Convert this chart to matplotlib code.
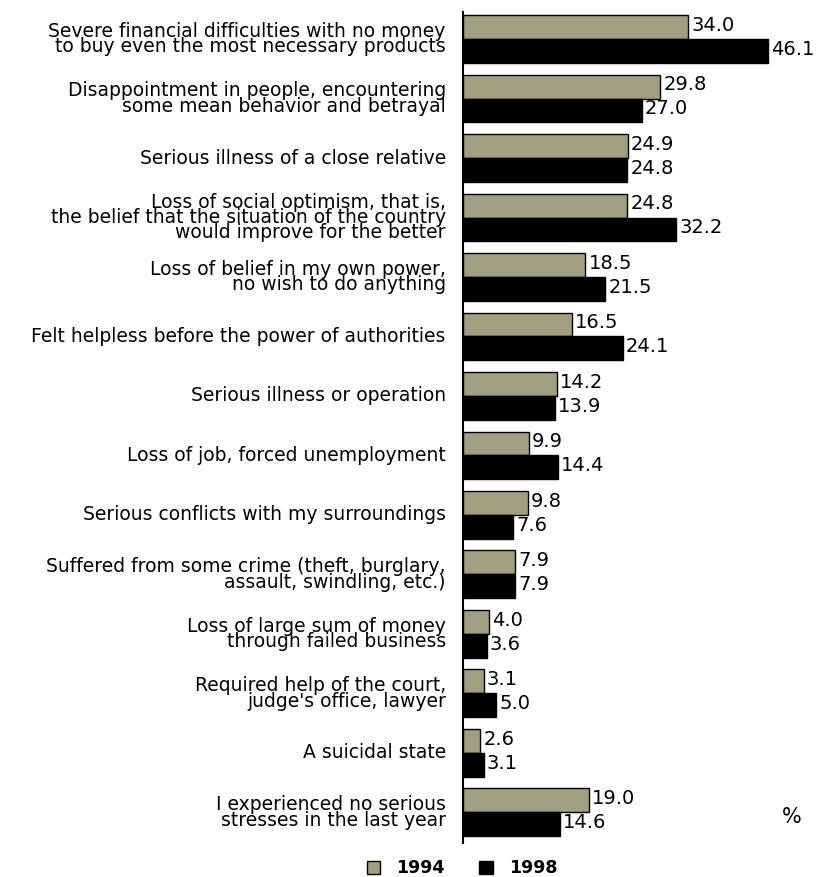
import matplotlib.pyplot as plt
import numpy as np
from matplotlib.patches import Patch

categories = [
    "Severe financial difficulties with no money\nto buy even the most necessary products",
    "Disappointment in people, encountering\nsome mean behavior and betrayal",
    "Serious illness of a close relative",
    "Loss of social optimism, that is,\nthe belief that the situation of the country\nwould improve for the better",
    "Loss of belief in my own power,\nno wish to do anything",
    "Felt helpless before the power of authorities",
    "Serious illness or operation",
    "Loss of job, forced unemployment",
    "Serious conflicts with my surroundings",
    "Suffered from some crime (theft, burglary,\nassault, swindling, etc.)",
    "Loss of large sum of money\nthrough failed business",
    "Required help of the court,\njudge's office, lawyer",
    "A suicidal state",
    "I experienced no serious\nstresses in the last year",
]
values_1994 = [34.0, 29.8, 24.9, 24.8, 18.5, 16.5, 14.2, 9.9, 9.8, 7.9, 4.0, 3.1, 2.6, 19.0]
values_1998 = [46.1, 27.0, 24.8, 32.2, 21.5, 24.1, 13.9, 14.4, 7.6, 7.9, 3.6, 5.0, 3.1, 14.6]
years = ["1994", "1998"]

olive = "#a19f82"
fig = plt.figure(figsize=(8.19, 8.77), dpi=100)
ax = fig.add_axes([0.5653, 0.0388, 0.4042, 0.9475])

y = np.arange(len(categories))
h = 0.403
ax.barh(y - h / 2, values_1994, height=h, color=olive, edgecolor="black", linewidth=1)
ax.barh(y + h / 2, values_1998, height=h, color="black", edgecolor="black", linewidth=1)

for i in range(len(categories)):
    ax.text(values_1994[i] + 0.45, y[i] - h / 2 - 0.03, f"{values_1994[i]:.1f}",
            va="center", ha="left", fontsize=14)
    ax.text(values_1998[i] + 0.45, y[i] + h / 2 - 0.03, f"{values_1998[i]:.1f}",
            va="center", ha="left", fontsize=14)
    ax.text(-2.6, y[i], categories[i], va="center", ha="right", fontsize=13.5,
            linespacing=0.75, multialignment="right")

ax.set_xlim(0, 50)
ax.set_ylim(13.513, -0.454)
for s in ["top", "right", "bottom"]:
    ax.spines[s].set_visible(False)
ax.spines["left"].set_linewidth(1.5)
ax.set_xticks([])
ax.set_yticks([])

fig.text(0.967, 0.068, "%", fontsize=15, ha="center", va="center")

handles = [Patch(facecolor=olive, edgecolor="black"), Patch(facecolor="black", edgecolor="black")]
fig.legend(handles, years, loc="center", bbox_to_anchor=(0.564, 0.01), ncol=2, frameon=False,
           prop={"weight": "bold", "size": 12.5}, handlelength=0.8, handleheight=0.8,
           handletextpad=0.9, columnspacing=2.0, borderpad=0)

fig.savefig("out.png", dpi=100)
